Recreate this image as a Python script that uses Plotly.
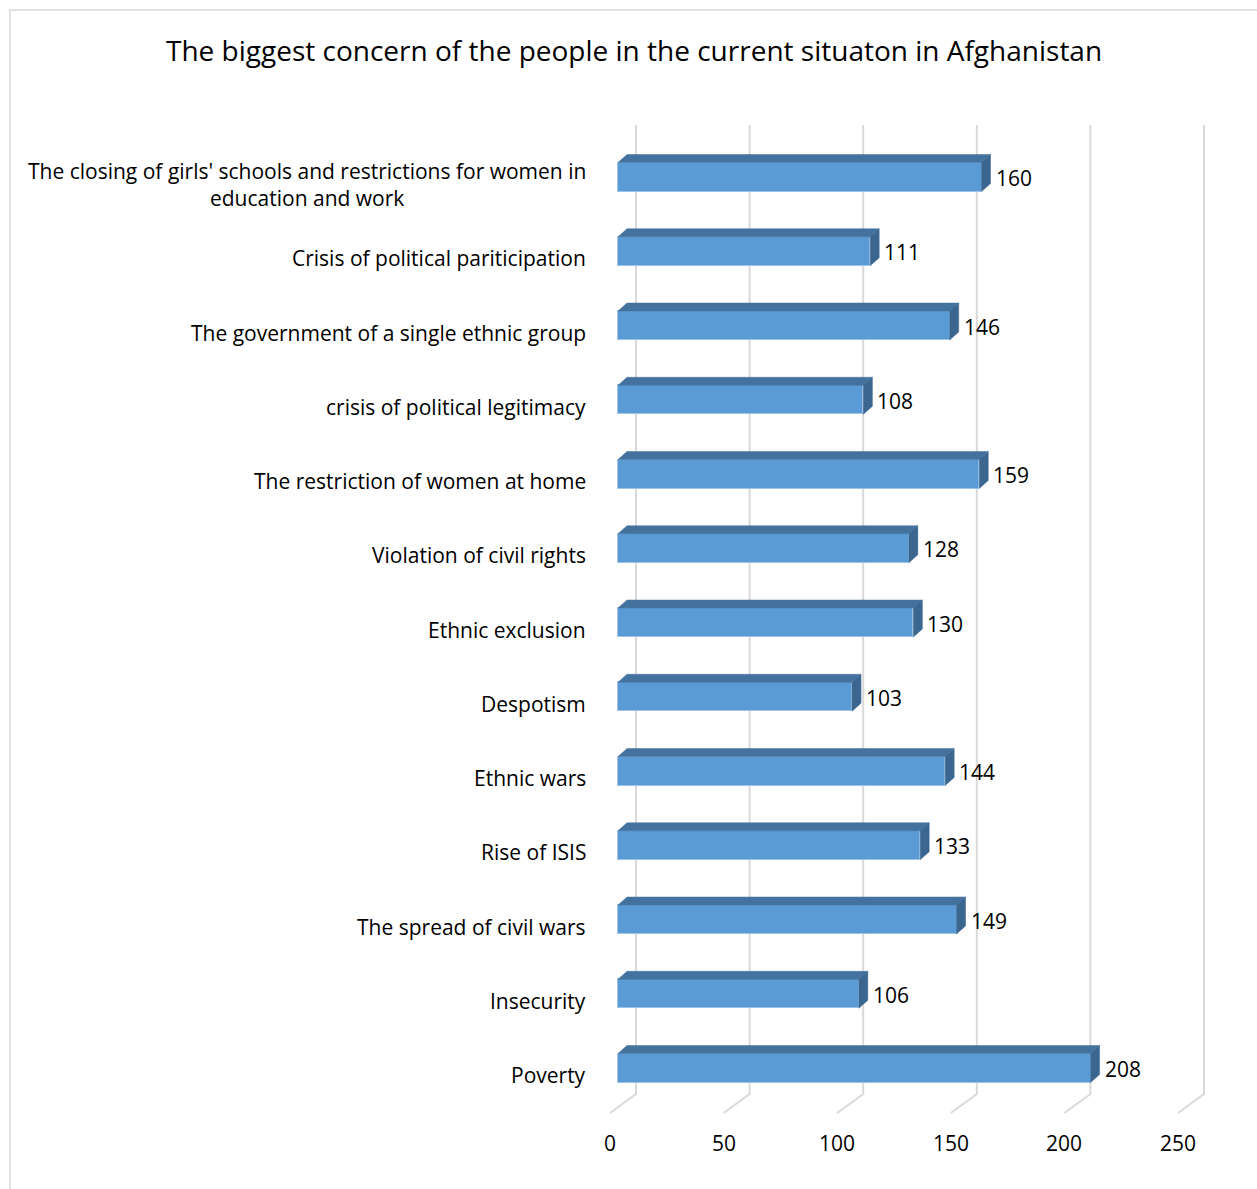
import plotly.graph_objects as go

categories = [
    "The closing of girls' schools and restrictions for women in<br>education and work",
    "Crisis of political pariticipation",
    "The government of a single ethnic group",
    "crisis of political legitimacy",
    "The restriction of women at home",
    "Violation of civil rights",
    "Ethnic exclusion",
    "Despotism",
    "Ethnic wars",
    "Rise of ISIS",
    "The spread of civil wars",
    "Insecurity",
    "Poverty",
]
values = [160, 111, 146, 108, 159, 128, 130, 103, 144, 133, 149, 106, 208]
tick_values = [0, 50, 100, 150, 200, 250]
title = "The biggest concern of the people in the current situaton in Afghanistan"

W, H = 1257, 1189
FONT = "Open Sans"

# pixel geometry -> data scales
x0_px = 618.0          # pixel of value 0 on the bar front plane
kx = 2.272             # px per value unit
y0_px = 177.0          # pixel center of first category
ky = 74.25             # px per category

xr = [-x0_px / kx, (W - x0_px) / kx]
yr = [(H - y0_px) / ky, -y0_px / ky]

def dxu(px):
    return px / kx

def dyu(px):
    return px / ky

half_h = dyu(14.5)
depth_dx = dxu(9)
depth_dy = dyu(8)

idx = list(range(len(categories)))

fig = go.Figure()

shapes = []
grid_col = "#D9D9D9"
back_off = dxu(18)
front_off = dxu(-8)
grid_top = dyu(125 - y0_px)
floor_back = dyu(1094 - y0_px)
floor_front = dyu(1113 - y0_px)
for v in tick_values:
    shapes.append(dict(type="path", xref="x", yref="y",
                       path=f"M {v+back_off},{grid_top} L {v+back_off},{floor_back} L {v+front_off},{floor_front}",
                       line=dict(color=grid_col, width=2), layer="below"))

# front faces
fig.add_trace(go.Bar(
    x=values, y=idx, orientation="h", width=2 * half_h,
    marker=dict(color="#5B9BD5", line=dict(color="#9DC3E6", width=1)),
    hoverinfo="x+y", showlegend=False,
))

for i, v in enumerate(values):
    top = i - half_h
    bot = i + half_h
    shapes.append(dict(type="path", xref="x", yref="y",
                       path=f"M 0,{top} L {depth_dx},{top-depth_dy} L {v+depth_dx},{top-depth_dy} L {v},{top} Z",
                       fillcolor="#44729E", line=dict(color="#44729E", width=0.5), layer="above"))
    shapes.append(dict(type="path", xref="x", yref="y",
                       path=f"M {v},{top} L {v+depth_dx},{top-depth_dy} L {v+depth_dx},{bot-depth_dy} L {v},{bot} Z",
                       fillcolor="#3A6690", line=dict(color="#3A6690", width=0.5), layer="above"))

# chart border
shapes.append(dict(type="rect", xref="paper", yref="paper",
                   x0=10 / W, x1=1.01, y0=-0.01, y1=1 - 10 / H,
                   line=dict(color="#D9D9D9", width=1.5), fillcolor="rgba(0,0,0,0)", layer="below"))

annotations = []
for i, (c, v) in enumerate(zip(categories, values)):
    annotations.append(dict(x=588 / W, xref="paper", y=i + dyu(7), yref="y", text=c,
                            xanchor="right", yanchor="middle", align="center",
                            showarrow=False, font=dict(family=FONT, size=21, color="#000000")))
    annotations.append(dict(x=v + depth_dx, xref="x", y=i + dyu(1), yref="y", text=str(v),
                            xanchor="left", yanchor="middle", xshift=3,
                            showarrow=False, font=dict(family=FONT, size=21, color="#000000")))
for v in tick_values:
    annotations.append(dict(x=v + front_off, xref="x", y=dyu(1143 - y0_px), yref="y", text=str(v),
                            xanchor="center", yanchor="middle", showarrow=False,
                            font=dict(family=FONT, size=21, color="#000000")))
annotations.append(dict(x=633.5 / W, xref="paper", y=1 - 50 / H, yref="paper", text=title,
                        xanchor="center", yanchor="middle", showarrow=False,
                        font=dict(family=FONT, size=28, color="#000000")))

fig.update_layout(
    width=W, height=H,
    margin=dict(l=0, r=0, t=0, b=0),
    paper_bgcolor="white", plot_bgcolor="white",
    xaxis=dict(range=xr, visible=False, fixedrange=True),
    yaxis=dict(range=yr, visible=False, fixedrange=True),
    shapes=shapes, annotations=annotations,
    bargap=0,
)

fig.write_html("out.html")
